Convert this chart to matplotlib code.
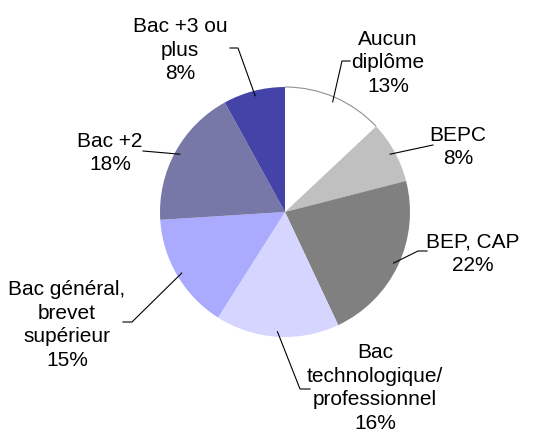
import numpy as np
import matplotlib.pyplot as plt
from matplotlib.patches import Arc

plt.rcParams['font.family'] = ['Liberation Sans', 'DejaVu Sans']

# données
categories = ["Aucun\ndiplôme", "BEPC", "BEP, CAP", "Bac\ntechnologique/\nprofessionnel",
              "Bac général,\nbrevet\nsupérieur", "Bac +2", "Bac +3 ou\nplus"]
parts = [13, 8, 22, 16, 15, 18, 8]
couleurs = ["#FFFFFF", "#C0C0C0", "#808080", "#D5D5FF", "#AAAAFF", "#7878A8", "#4444A8"]

H = 435
cx, cy, r = 285, H - 213, 125

# position des étiquettes (centre du bloc) et coude du trait, en pixels
pos_txt = [(388, 63), (458, 147), (473, 254), (375, 388), (67, 325), (110, 153), (180, 50)]
coudes = [(342, 62), (433, 146), (418, 252), (300, 390), (132, 323), (143, 152), (238, 49)]
bouts = [(350, 62), None, (427, 252), (310, 390), (123, 323), None, (230, 49)]

fig = plt.figure(figsize=(5.39, 4.35), dpi=100)
ax = fig.add_axes([0, 0, 1, 1])
wedges, _ = ax.pie(parts, colors=couleurs, startangle=90, counterclock=False,
                   center=(cx, cy), radius=r, wedgeprops=dict(linewidth=0))

# liseré gris sur la part blanche
w0 = wedges[0]
ax.add_patch(Arc((cx, cy), 2 * r, 2 * r, theta1=w0.theta1, theta2=w0.theta2,
                 color="#909090", lw=0.8))

for i, w in enumerate(wedges):
    a = np.deg2rad((w.theta1 + w.theta2) / 2)
    x0, y0 = cx + 0.96 * r * np.cos(a), cy + 0.96 * r * np.sin(a)
    xs = [x0, coudes[i][0]]
    ys = [y0, H - coudes[i][1]]
    if bouts[i] is not None:
        xs.append(bouts[i][0])
        ys.append(H - bouts[i][1])
    ax.plot(xs, ys, color="black", lw=0.8)
    ax.text(pos_txt[i][0], H - pos_txt[i][1], f"{categories[i]}\n{parts[i]}%",
            ha="center", va="center", fontsize=15, linespacing=1.32)

ax.set_xlim(0, 539)
ax.set_ylim(0, H)
ax.axis("off")
plt.savefig("out.png")
